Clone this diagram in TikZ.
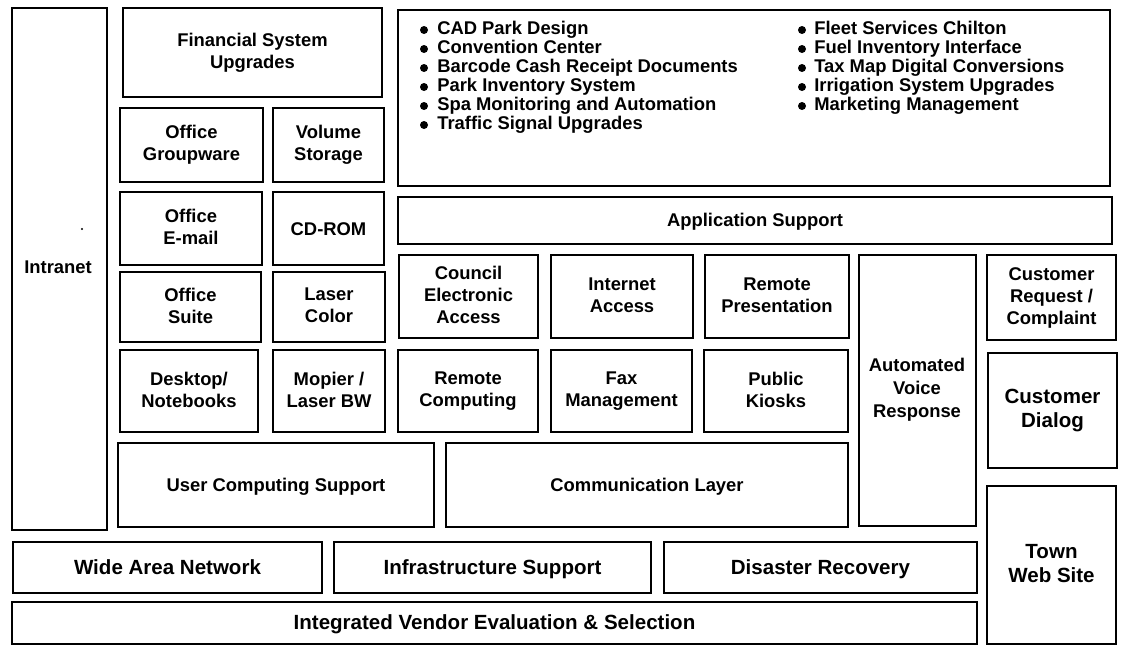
\documentclass[tikz,border=0pt]{standalone}
\usepackage{fontspec}
\setmainfont{Liberation Sans}
\usetikzlibrary{fit}
% struts balanced around the cap height, so labels centre on their capitals
\newcommand\capstrut{\rule[-2.1pt]{0pt}{14.1pt}}
\newcommand\bigcapstrut{\rule[-2.5pt]{0pt}{16pt}}
\tikzset{
  frame/.style={draw, line width=2.2pt, inner sep=0pt},
  lbl/.style={inner sep=0pt, align=center,
    font=\bfseries\fontsize{13.8}{16.5}\selectfont,
    execute at begin node=\capstrut, execute at end node=\capstrut},
  biglbl/.style={inner sep=0pt, align=center,
    font=\bfseries\fontsize{15.4}{18}\selectfont,
    execute at begin node=\bigcapstrut, execute at end node=\bigcapstrut},
  item/.style={anchor=west, inner sep=0pt, text height=10pt, text depth=3pt,
    font=\bfseries\fontsize{13.8}{14}\selectfont},
  dotmark/.style={fill=black},
}
% a framed cell: style of the label, name, corner points, text
\newcommand\cell[4][lbl]{%
  \node[frame, fit={#3}] (#2) {};
  \node[#1] (#2-text) at (#2.center) {#4};
}
\begin{document}
\begin{tikzpicture}[x=0.75pt,y=-0.75pt]
\useasboundingbox (0,0) rectangle (1122,646);

% left column
\node[frame, fit={(12,8)(107,530)}] (intranet) {};
\node[lbl, anchor=west] (intranet-text) at (24,267) {Intranet};
\fill[dotmark] (82,229) circle[radius=0.9pt];

% desktop tools
\cell{fin}{(123,8)(382,97)}{Financial System\\Upgrades}
\cell{grp}{(120,108)(263,182)}{Office\\Groupware}
\cell{vol}{(273,108)(384,182)}{Volume\\Storage}
\cell{mail}{(120,192)(262,265)}{Office\\E-mail}
\cell{cdrom}{(273,192)(384,265)}{CD-ROM}
\cell{suite}{(120,272)(261,342)}{Office\\Suite}
\cell{laser}{(273,272)(385,342)}{Laser\\Color}
\cell{desk}{(120,350)(258,432)}{Desktop/\\Notebooks}
\cell{mopier}{(273,350)(385,432)}{Mopier /\\Laser BW}
\cell{ucs}{(118,443)(434,527)}{User Computing Support}

% applications
\node[frame, fit={(398,10)(1110,186)}] (apps) {};
\foreach \t [count=\i] in {CAD Park Design, Convention Center,
    Barcode Cash Receipt Documents, Park Inventory System,
    Spa Monitoring and Automation, Traffic Signal Upgrades} {
  \fill[dotmark] (424,{30+19*(\i-1)}) circle[radius=3pt];
  \node[item] (appl\i) at (437,{30+19*(\i-1)}) {\t};
}
\foreach \t [count=\i] in {Fleet Services Chilton, Fuel Inventory Interface,
    Tax Map Digital Conversions, Irrigation System Upgrades,
    Marketing Management} {
  \fill[dotmark] (802,{30+19*(\i-1)}) circle[radius=3pt];
  \node[item] (appr\i) at (814,{30+19*(\i-1)}) {\t};
}
\cell{appsup}{(398,197)(1112,244)}{Application Support}

% communication
\cell{council}{(399,255)(538,338)}{Council\\Electronic\\Access}
\cell{inet}{(551,255)(693,338)}{Internet\\Access}
\cell{rpres}{(705,255)(849,338)}{Remote\\Presentation}
\cell{rcomp}{(398,350)(538,432)}{Remote\\Computing}
\cell{fax}{(551,350)(692,432)}{Fax\\Management}
\cell{kiosk}{(704,350)(848,432)}{Public\\Kiosks}
\cell{comm}{(446,443)(848,527)}{Communication Layer}
\node[frame, fit={(859,255)(976,526)}] (avr) {};
\node[lbl, anchor=north, font=\bfseries\fontsize{13.8}{17.25}\selectfont] (avr-text) at (917,358) {Automated\\Voice\\Response};

% customer side
\cell{creq}{(987,255)(1116,340)}{Customer\\Request /\\Complaint}
\cell[biglbl]{cdlg}{(988,353)(1117,468)}{Customer\\Dialog}
\cell[biglbl]{web}{(987,486)(1116,644)}{Town\\Web Site}

% infrastructure
\cell[biglbl]{wan}{(13,542)(322,593)}{Wide Area Network}
\cell[biglbl]{infra}{(334,542)(651,593)}{Infrastructure Support}
\cell[biglbl]{dr}{(664,542)(977,593)}{Disaster Recovery}
\cell[biglbl]{ives}{(12,602)(977,644)}{Integrated Vendor Evaluation \& Selection}
\end{tikzpicture}
\end{document}
